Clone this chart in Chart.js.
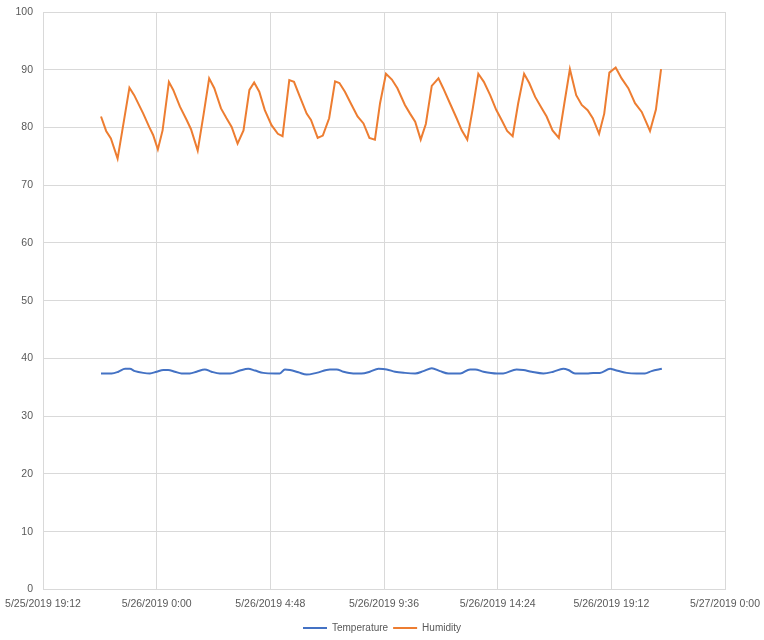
<!DOCTYPE html>
<html>
<head>
<meta charset="utf-8">
<script src="https://cdn.jsdelivr.net/npm/chart.js@4.4.0/dist/chart.umd.min.js"></script>
<style>
  body { margin: 0; background: #fff; }
  #wrap { width: 764px; height: 640px; }
</style>
</head>
<body>
<div id="wrap"><canvas id="chart" width="764" height="640"></canvas></div>
<script>
// times are minutes relative to 5/26/2019 0:00
var humTimes = [-141,-128,-116,-99,-87,-69,-57,-34,-19,-9,3,15,31,42,59,76,87,104,119,133,146,163,177,190,205,220,235,247,260,274,291,307,319,336,348,363,380,391,408,421,437,452,463,477,494,509,524,539,553,566,581,596,610,629,642,655,669,682,697,714,726,743,760,773,787,801,815,829,845,860,874,888,902,916,931,944,959,976,988,1003,1019,1033,1047,1063,1077,1092,1105,1121,1134,1147,1163,1178,1195,1212,1229,1250,1265,1278];
var humValues = [81.9,79.4,78.1,74.6,79.5,86.9,85.6,82.4,80.1,78.7,76.2,79.5,87.9,86.5,83.6,81.3,79.7,76.0,82.3,88.5,86.8,83.3,81.6,80.1,77.2,79.5,86.5,87.8,86.2,83.0,80.4,78.9,78.5,88.2,87.9,85.3,82.4,81.3,78.2,78.6,81.6,88.0,87.7,86.2,83.9,81.9,80.7,78.2,77.9,84.2,89.3,88.3,86.8,83.9,82.4,81.0,77.9,80.6,87.2,88.5,86.8,84.2,81.6,79.5,77.9,83.3,89.3,87.9,85.6,83.1,81.3,79.4,78.5,84.2,89.3,87.7,85.3,83.3,81.9,79.5,78.2,84.2,90.1,85.6,83.9,83.0,81.6,78.9,82.4,89.5,90.4,88.5,86.8,84.2,82.7,79.4,83.1,90.1];

var tempTimes = [-141,-114,-97,-80,-68,-55,-34,-17,0,17,29,46,63,84,101,122,139,160,186,211,232,249,270,300,312,325,338,359,380,405,439,456,473,498,519,540,562,583,604,629,655,676,697,718,739,769,794,807,828,862,878,912,929,950,980,1005,1030,1043,1060,1090,1106,1123,1149,1161,1191,1216,1237,1254,1280];
var tempValues = [37.4,37.4,37.7,38.2,38.2,37.8,37.5,37.4,37.7,38.0,38.0,37.7,37.4,37.4,37.7,38.1,37.7,37.4,37.4,37.9,38.2,37.9,37.5,37.4,37.4,38.1,38.0,37.6,37.2,37.5,38.1,38.1,37.7,37.4,37.4,37.7,38.2,38.1,37.7,37.5,37.4,37.8,38.3,37.8,37.4,37.4,38.1,38.1,37.7,37.4,37.4,38.1,38.0,37.7,37.4,37.7,38.2,38.0,37.4,37.4,37.5,37.5,38.2,38.0,37.5,37.4,37.4,37.8,38.2];

var xMin = -288, xMax = 1440, xStep = 288;
var yMin = 0, yMax = 100, yStep = 10;

function toPoints(times, values) {
  return times.map(function(t, i) { return {x: t, y: values[i]}; });
}

function fmtTime(m) {
  var d = Math.floor(m / 1440);
  var rest = m - d * 1440;
  var h = Math.floor(rest / 60);
  var mm = Math.round(rest - h * 60);
  return '5/' + (26 + d) + '/2019 ' + h + ':' + (mm < 10 ? '0' : '') + mm;
}

var grey = '#D9D9D9';
var txt = '#595959';
var fnt = {family: 'Liberation Sans, Arial, sans-serif', size: 10.5};

// legend is centred on the whole canvas, not on the padded box
const centerLegend = {
  id: 'centerLegend',
  afterLayout: function(chart) {
    chart.legend.left = 0;
    chart.legend.right = chart.width;
  }
};

//--------------- chart ---------------//
const chart = new Chart(
  document.getElementById('chart'),
  {
    type: 'scatter',
    plugins: [centerLegend],
    data: {
      datasets: [
        {
          label: 'Temperature',
          data: toPoints(tempTimes, tempValues),
          showLine: true,
          borderColor: '#4472C4',
          backgroundColor: '#4472C4',
          borderWidth: 2,
          pointRadius: 0,
          pointStyle: 'line',
          cubicInterpolationMode: 'monotone'
        },
        {
          label: 'Humidity',
          data: toPoints(humTimes, humValues),
          showLine: true,
          borderColor: '#ED7D31',
          backgroundColor: '#ED7D31',
          borderWidth: 2,
          pointRadius: 0,
          pointStyle: 'line',
          tension: 0
        }
      ]
    },
    options: {
      responsive: false,
      animation: false,
      layout: {padding: {left: 0, right: 39, top: 12, bottom: -3}},
      plugins: {
        tooltip: {enabled: false},
        legend: {
          position: 'bottom',
          labels: {
            usePointStyle: true,
            pointStyleWidth: 24,
            color: txt,
            font: {family: 'Liberation Sans, Arial, sans-serif', size: 10},
            padding: 5
          }
        }
      },
      scales: {
        x: {
          type: 'linear',
          min: xMin,
          max: xMax,
          grid: {color: grey, drawTicks: false},
          border: {color: grey},
          ticks: {
            stepSize: xStep,
            color: txt,
            font: fnt,
            padding: 8,
            maxRotation: 0,
            autoSkip: false,
            callback: function(v) { return fmtTime(v); }
          },
          afterFit: function(scale) { scale.paddingLeft = 0; scale.paddingRight = 0; }
        },
        y: {
          min: yMin,
          max: yMax,
          grid: {color: grey, drawTicks: false},
          border: {color: grey},
          ticks: {stepSize: yStep, color: txt, font: fnt, padding: 10},
          afterFit: function(scale) {
            scale.width = 43;
            scale.paddingTop = 0;
            scale.paddingBottom = 0;
          }
        }
      }
    }
  }
);
</script>
</body>
</html>
